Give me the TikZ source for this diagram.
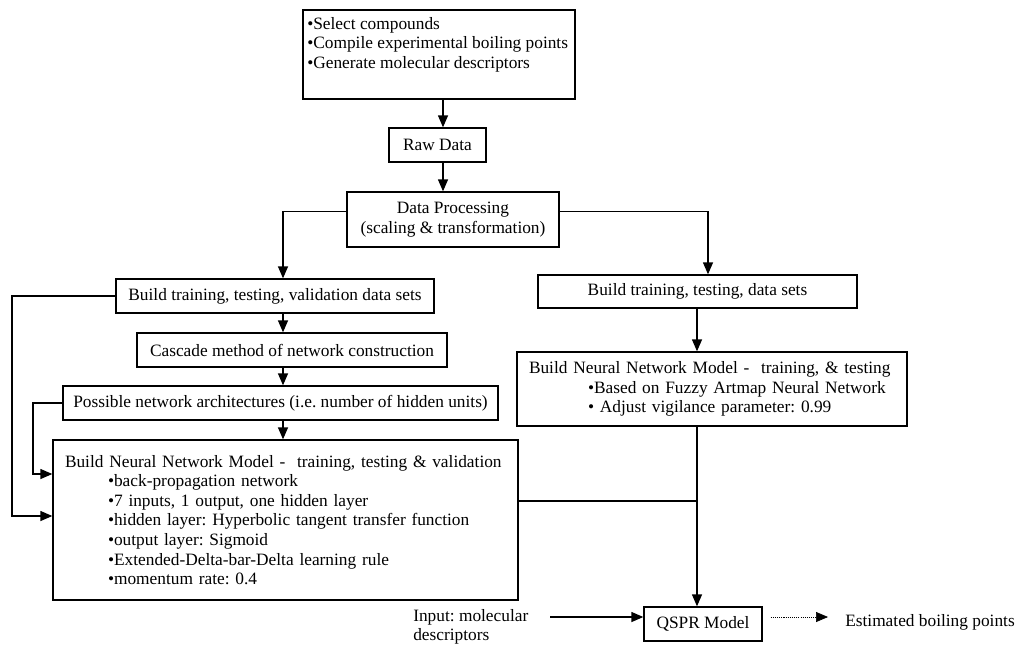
\documentclass[tikz,border=0pt]{standalone}
\usepackage{fontspec}
\setmainfont{Liberation Serif}
\usetikzlibrary{arrows.meta,calc}
\frenchspacing
\newcommand\bxnode[6]{\node[bx,minimum width={#4*0.75pt},minimum height={#5*0.75pt}] (#1) at (#2,#3) {#6};}
\begin{document}
\begin{tikzpicture}[x=0.75pt,y=-0.75pt,
  every node/.style={font=\frenchspacing\fontsize{13}{14.7}\selectfont},
  bx/.style={draw,line width=1pt,inner sep=0pt},
  arr/.style={line width=1pt,-{Triangle[length=9pt,width=7.5pt]}},
  ln/.style={line width=1pt},
  dotarr/.style={line width=0.5pt,dash pattern=on 0.8pt off 0.8pt,-{Triangle[length=9pt,width=7.5pt]}}]
\useasboundingbox (0,0) rectangle (1016,644);
% columns
\coordinate (cx) at (443,0);
\coordinate (cL) at (283,0);
\coordinate (cR) at (697,0);
\coordinate (cR2) at (708,0);
% boxes
\bxnode{top}{439}{54.5}{272}{89}{}
\node[anchor=north west,align=left,inner sep=0pt] (toptxt) at (307,17)
  {•Select compounds\\•Compile experimental boiling points\\•Generate molecular descriptors};
\bxnode{raw}{437.5}{145}{97}{34}{Raw Data}
\node[bx,align=center,minimum width={212*0.75pt},minimum height={55*0.75pt}] (dp) at (453,219.5)
  {Data Processing\\(scaling \& transformation)};
\bxnode{trL}{275}{296}{318}{34}{Build training, testing, validation data sets}
\bxnode{trR}{697.5}{291.5}{319}{33}{Build training, testing, data sets}
\bxnode{casc}{292}{350}{310}{34}{Cascade method of network construction}
\bxnode{poss}{280.5}{403}{435}{34}{Possible network architectures (i.e. number of hidden units)}
\node[bx,align=left,text width={441*0.75pt},inner xsep={12*0.75pt},minimum height={160*0.75pt}] (nnL) at (285.5,520)
  {Build Neural Network Model -\ \ training, testing \& validation\\
   \hspace*{32.25pt}•back-propagation network\\
   \hspace*{32.25pt}•7 inputs, 1 output, one hidden layer\\
   \hspace*{32.25pt}•hidden layer: Hyperbolic tangent transfer function\\
   \hspace*{32.25pt}•output layer: Sigmoid\\
   \hspace*{32.25pt}•Extended-Delta-bar-Delta learning rule\\
   \hspace*{32.25pt}•momentum rate: 0.4};
\node[bx,align=left,text width={366*0.75pt},inner xsep={12*0.75pt},minimum height={74*0.75pt}] (nnR) at (712,389)
  {Build Neural Network Model -\ \ training, \& testing\\
   \hspace*{44.25pt}•Based on Fuzzy Artmap Neural Network\\
   \hspace*{44.25pt}• Adjust vigilance parameter: 0.99};
\bxnode{qspr}{703}{624}{118}{34}{QSPR Model}
\node[anchor=north west,align=left,inner sep=0pt] (inp) at (413,609) {Input: molecular\\descriptors};
\node[anchor=west,inner sep=0pt] (est) at (845,622) {Estimated boiling points};
% connectors
\draw[arr] (top.south -| cx) -- (raw.north -| cx);
\draw[arr] (raw.south -| cx) -- (dp.north -| cx);
\coordinate (dpl) at ($(dp.north west)!0.36!(dp.south west)$);
\coordinate (dpr) at ($(dp.north east)!0.36!(dp.south east)$);
\draw[arr] (dpl) -| (trL.north -| cL);
\draw[arr] (dpr) -| (trR.north -| cR2);
\draw[arr] (trL.south -| cL) -- (casc.north -| cL);
\draw[arr] (casc.south -| cL) -- (poss.north -| cL);
\draw[arr] (poss.south -| cL) -- (nnL.north -| cL);
\coordinate (fo) at (12,516);
\coordinate (fi) at (33,474);
\draw[arr] (trL.west) -| (fo) -- (fo -| nnL.west);
\draw[arr] (poss.west) -| (fi) -- (fi -| nnL.west);
\draw[arr] (trR.south -| cR) -- (nnR.north -| cR);
\draw[arr] (nnR.south -| cR) -- (qspr.north -| cR);
\coordinate (j) at (697,501);
\draw[ln] (j -| nnL.east) -- (j);
\coordinate (ia) at (550,617);
\draw[arr] (ia) -- (ia -| qspr.west);
\draw[dotarr] ($(qspr.east |- ia)+(8,0)$) -- ($(est.west |- ia)+(-17,0)$);
\end{tikzpicture}
\end{document}
